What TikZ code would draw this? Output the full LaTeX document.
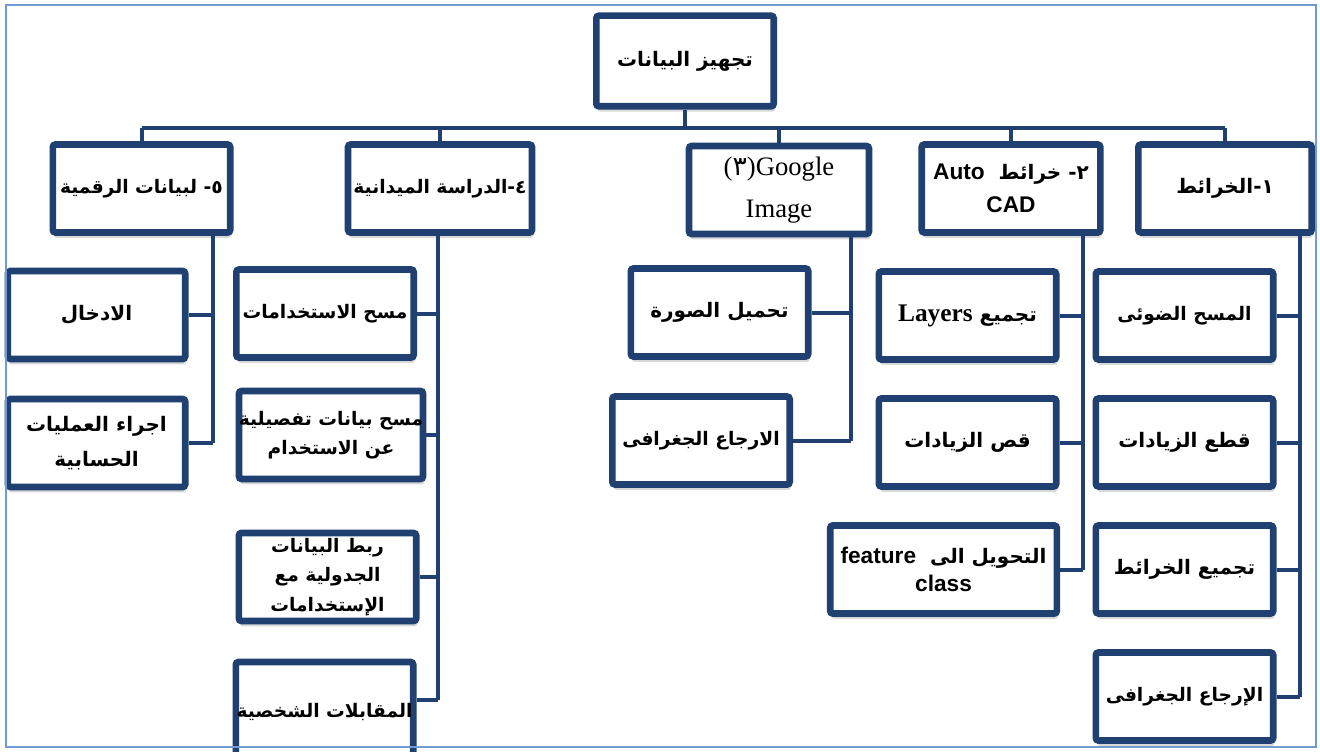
\documentclass[tikz,border=0pt]{standalone}
\usepackage{fontspec}
\usetikzlibrary{shadows}
\newfontfamily\arabicfont[Script=Arabic]{DejaVu Sans}
\newfontfamily\serifen{Liberation Serif}
\newfontfamily\sansen{Liberation Sans}
\TeXXeTstate=1
\definecolor{boxblue}{RGB}{31,64,112}
\definecolor{framecol}{RGB}{112,156,214}
\newcommand{\artext}[1]{\beginR #1\endR}
\tikzset{
  box/.style={draw=boxblue, line width=5pt, fill=white, rounded corners=2pt,
    minimum width=133pt, minimum height=66pt, inner xsep=-8pt, inner ysep=1pt, align=center,
    font=\arabicfont\bfseries\fontsize{14}{22}\selectfont,
    drop shadow={shadow xshift=1pt, shadow yshift=-4pt, fill=black!30}},
  link/.style={draw=boxblue, line width=3pt},
}
\begin{document}
\begin{tikzpicture}[x=0.75pt,y=0.75pt,yscale=-1,xscale=1]
\path[use as bounding box] (0,0) rectangle (1320,752);
\clip (0,0) rectangle (1320,752);

% Top box
\node[box, minimum height=68pt, font=\arabicfont\bfseries\fontsize{15}{22}\selectfont] (top) at (685,61) {\artext{تجهيز البيانات}};

% Headers
\node[box] (h5) at (141.5,188.5) {\artext{٥\kern0pt- لبيانات الرقمية}};
\node[box, minimum width=138pt] (h4) at (440,188.5) {\artext{٤\kern0pt-\kern0pt الدراسة الميدانية}};
\node[box, minimum width=135pt, font=\serifen\fontsize{20}{31}\selectfont] (h3) at (779,190) {({\arabicfont ٣})Google\\Image};
\node[box, minimum width=134pt, font=\arabicfont\bfseries\fontsize{15}{25}\selectfont] (h2) at (1011,188.5) {\artext{٢\kern0pt- خرائط \ \beginL{\sansen\fontsize{17}{17}\selectfont Auto}\endL}\\{\sansen\fontsize{17}{17}\selectfont CAD}};
\node[box, minimum width=130pt, font=\arabicfont\bfseries\fontsize{15}{22}\selectfont] (h1) at (1225,188.5) {\artext{١\kern0pt-\kern0pt الخرائط}};

% Column 5
\node[box, font=\arabicfont\bfseries\fontsize{15}{22}\selectfont] (c5a) at (96.5,315) {\artext{الادخال}};
\node[box, font=\arabicfont\bfseries\fontsize{15}{26}\selectfont] (c5b) at (96.5,443) {\artext{اجراء العمليات}\\\artext{الحسابية}};

% Column 4
\node[box] (c4a) at (325,313.5) {\artext{مسح الاستخدامات}};
\node[box, minimum width=138pt] (c4b) at (331,435) {\artext{مسح بيانات تفصيلية}\\\artext{عن الاستخدام}};
\node[box, font=\arabicfont\bfseries\fontsize{14}{22}\selectfont] (c4c) at (327.5,577) {\artext{ربط البيانات}\\\artext{الجدولية مع}\\\artext{الإستخدامات}};
\node[box, minimum height=75pt] (c4d) at (324.5,712) {\artext{المقابلات الشخصية}};

% Column 3
\node[box, font=\arabicfont\bfseries\fontsize{15}{22}\selectfont] (c3a) at (719.5,312.5) {\artext{تحميل الصورة}};
\node[box] (c3b) at (701,440.5) {\artext{الارجاع الجغرافى}};

% Column 2
\node[box, font=\arabicfont\bfseries\fontsize{15}{22}\selectfont] (c2a) at (967.5,315.5) {\artext{تجميع \beginL{\serifen\bfseries\fontsize{19}{19}\selectfont Layers}\endL}};
\node[box, font=\arabicfont\bfseries\fontsize{15}{22}\selectfont] (c2b) at (967.5,442.5) {\artext{قص الزيادات}};
\node[box, minimum width=170pt, font=\arabicfont\bfseries\fontsize{15}{21}\selectfont] (c2c) at (943.5,569.5) {\artext{التحويل الى \ \beginL{\sansen\fontsize{17}{17}\selectfont feature}\endL}\\{\sansen\fontsize{17}{17}\selectfont class}};

% Column 1
\node[box] (c1a) at (1184.5,315.5) {\artext{المسح الضوئى}};
\node[box, font=\arabicfont\bfseries\fontsize{15}{22}\selectfont] (c1b) at (1184.5,442.5) {\artext{قطع الزيادات}};
\node[box, font=\arabicfont\bfseries\fontsize{15}{22}\selectfont] (c1c) at (1184.5,569.5) {\artext{تجميع الخرائط}};
\node[box] (c1d) at (1184.5,696.5) {\artext{الإرجاع الجغرافى}};

% Trunk and bus
\coordinate (bus) at (685,128);
\draw[link] (top.south) -- (bus);
\draw[link] (h5.north |- bus) -- (h1.north |- bus);
\foreach \h in {h5,h4,h3,h2,h1}
  \draw[link] (\h.north) -- (\h.north |- bus);

% Spines
\coordinate (s5) at (213,0);
\coordinate (s4) at (438,0);
\coordinate (s3) at (851,0);
\coordinate (s2) at (1083,0);
\coordinate (s1) at (1300,0);
\coordinate (j4) at (438,700);
\draw[link] (h5.south -| s5) -- (c5b.east -| s5);
\draw[link] (h4.south -| s4) -- (j4);
\draw[link] (h3.south -| s3) -- (c3b.east -| s3);
\draw[link] (h2.south -| s2) -- (c2c.east -| s2);
\draw[link] (h1.south -| s1) -- (c1d.east -| s1);

% Branches
\foreach \c/\s in {c5a/s5,c5b/s5,c4a/s4,c4b/s4,c4c/s4,c3a/s3,c3b/s3,c2a/s2,c2b/s2,c2c/s2,c1a/s1,c1b/s1,c1c/s1,c1d/s1}
  \draw[link] (\c.east) -- (\c.east -| \s);
\draw[link] (j4) -- (j4 -| c4d.east);

% Frame
\draw[framecol, line width=1.2pt] (6,5) rectangle (1316,747);

\end{tikzpicture}
\end{document}
